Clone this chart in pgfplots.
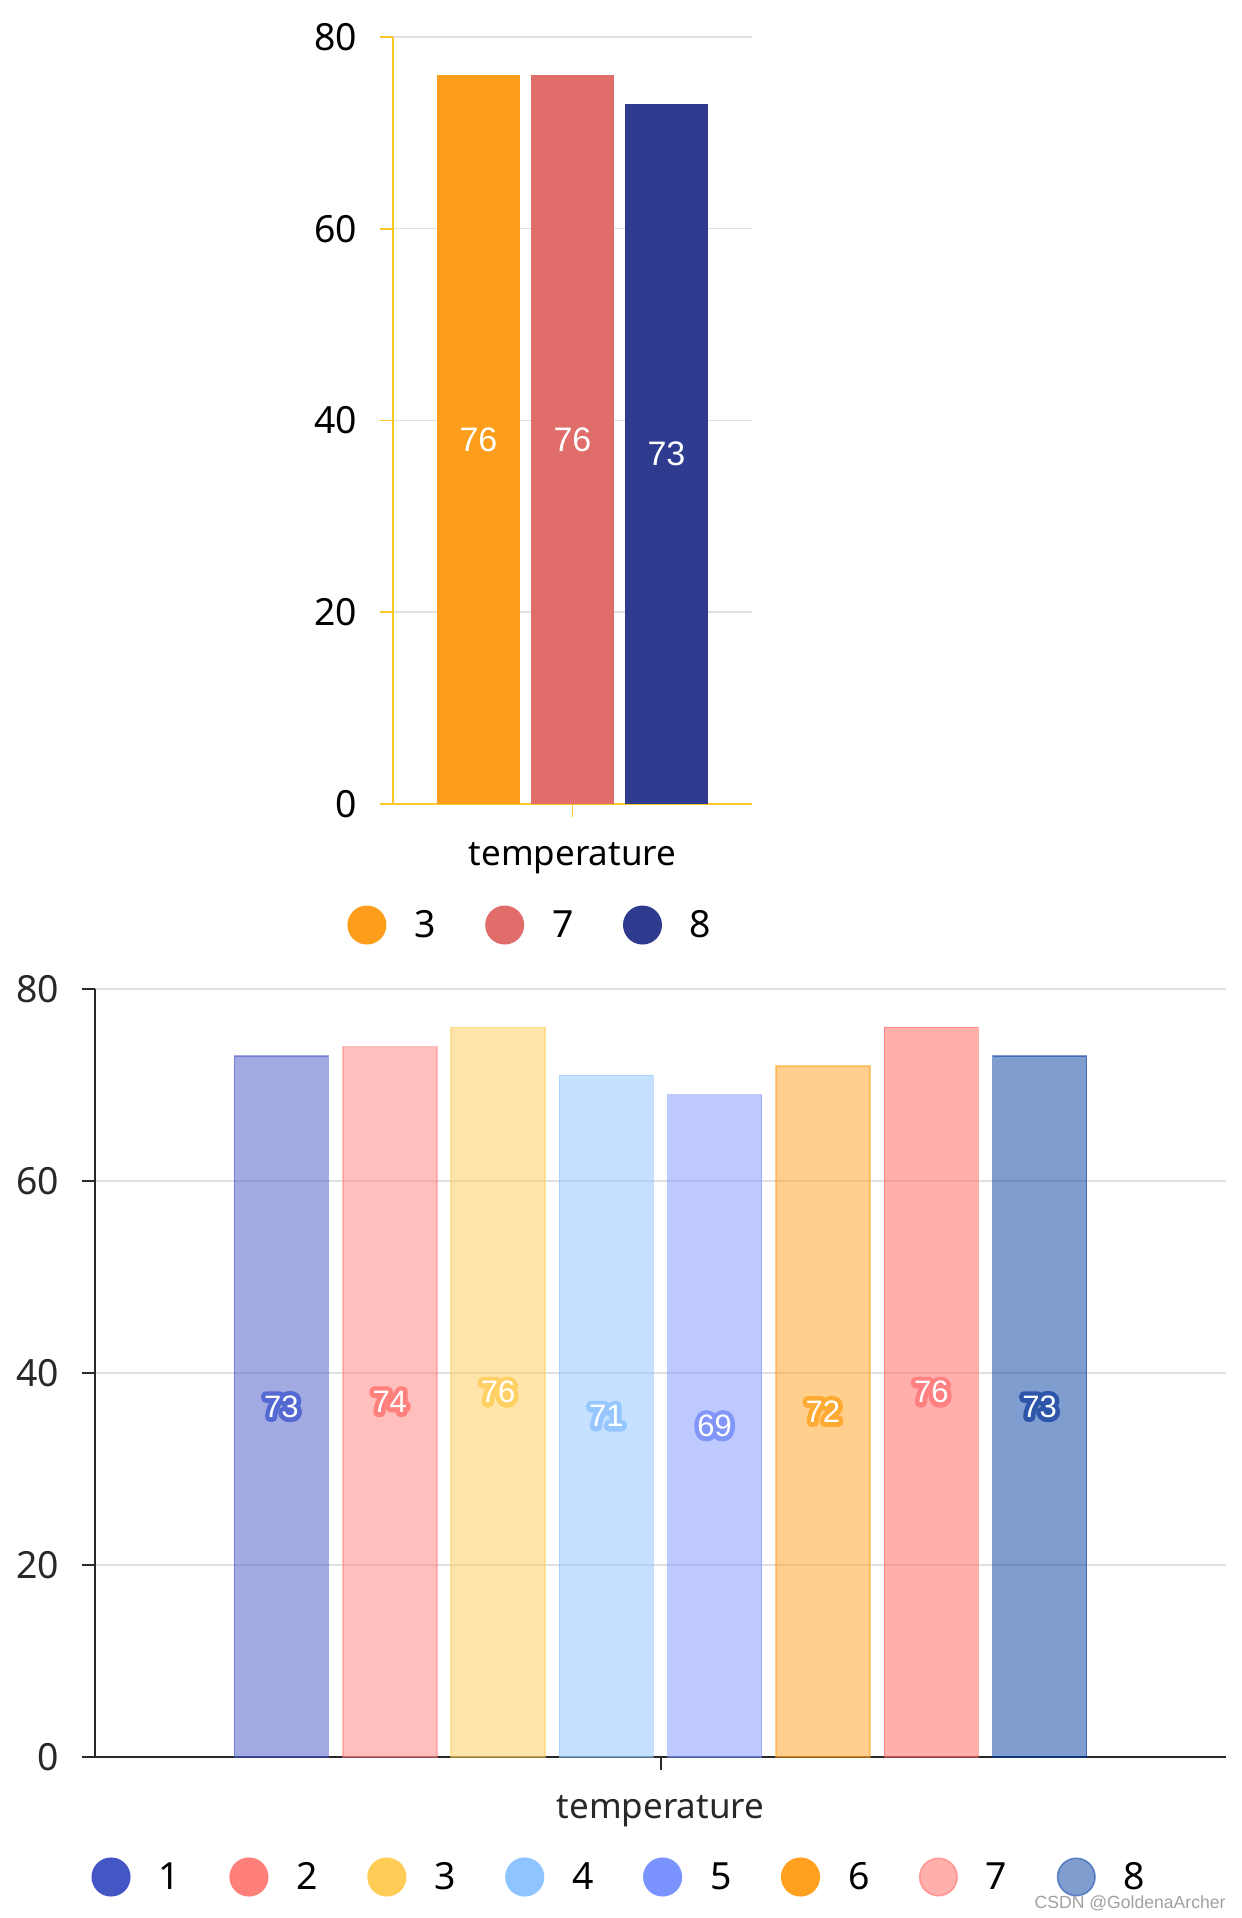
\documentclass[border=0pt]{standalone}
\usepackage{pgfplots}
\pgfplotsset{compat=1.18}
\usepackage{fontspec}
\setmainfont{Noto Sans}
\newfontfamily\labelfont{Liberation Sans}
\newcommand\halo[2]{\rlap{\color{#1}\addfontfeature{FakeBold=30}#2}#2}

\definecolor{axisyellow}{RGB}{248,200,40}
\definecolor{gridgray}{RGB}{224,224,224}
\definecolor{torange}{RGB}{252,158,28}
\definecolor{tred}{RGB}{225,109,107}
\definecolor{tblue}{RGB}{47,59,142}
\definecolor{c1}{RGB}{67,86,196}
\definecolor{c2}{RGB}{255,127,122}
\definecolor{c3}{RGB}{255,204,85}
\definecolor{c4}{RGB}{142,196,255}
\definecolor{c5}{RGB}{123,147,255}
\definecolor{c6}{RGB}{255,160,30}
\definecolor{c7}{RGB}{255,97,91}
\definecolor{c8}{RGB}{1,59,161}
\definecolor{h1}{RGB}{85,105,210}
\definecolor{h2}{RGB}{255,128,125}
\definecolor{h3}{RGB}{255,208,100}
\definecolor{h4}{RGB}{150,198,255}
\definecolor{h5}{RGB}{130,150,250}
\definecolor{h6}{RGB}{255,170,50}
\definecolor{h7}{RGB}{255,128,128}
\definecolor{h8}{RGB}{45,85,170}
\definecolor{darktext}{RGB}{40,40,40}

\pgfplotsset{
  tbar/.style={fill=#1, draw=none,
    legend image code/.code={\fill[#1] (9.75pt,0.4pt) circle (9.75pt);}},
  bbar/.style n args={3}{fill=#1, fill opacity=0.5, draw=#1, draw opacity=0.5, line width=0.75pt,
    nodes near coords={\halo{#2}{\pgfmathprintnumber\pgfplotspointmeta}},
    legend image code/.code={\filldraw[fill=#1, draw=#1, fill opacity=#3, draw opacity=#3, line width=0.75pt] (9.75pt,0.4pt) circle (9.4pt);}},
}

\begin{document}
\begin{tikzpicture}
\useasboundingbox (0,0) rectangle (621pt,959pt);

% ---------- top chart ----------
\begin{axis}[
  at={(196.5pt,557pt)}, anchor=south west,
  scale only axis, width=179.5pt, height=383.5pt,
  clip=false,
  ybar=5.5pt, bar width=41.5pt,
  xmin=-1, xmax=1, ymin=0, ymax=80,
  enlargelimits=false,
  axis lines*=left,
  axis line style={axisyellow, line width=0.9pt},
  tick style={axisyellow, line width=0.9pt},
  tick align=outside, major tick length=6.5pt,
  ytick={0,20,40,60,80}, xtick={0}, xticklabels={},
  ymajorgrids, grid style={gridgray, line width=0.75pt},
  /pgf/number format/assume math mode=true,
  tick label style={font=\fontsize{18.7pt}{22pt}\selectfont, text=black},
  yticklabel style={xshift=-8pt},
  nodes near coords,
  visualization depends on={rawy \as \rawy},
  every node near coord/.append style={anchor=center, shift={(axis direction cs:0,-0.5*\rawy)},
    font=\labelfont\fontsize{17pt}{20pt}\selectfont, text=white, opacity=1, text opacity=1},
  legend columns=-1,
  legend style={draw=none, fill=none, inner sep=0pt, outer sep=0pt,
    at={(axis description cs:-0.127,-0.1578)}, anchor=west,
    font=\fontsize{18.7pt}{22pt}\selectfont,
    nodes={inner sep=0pt},
    /tikz/every odd column/.append style={column sep=14pt},
    /tikz/every even column/.append style={column sep=24.7pt}},
]
\addplot[tbar=torange] coordinates {(0,76)};
\addplot[tbar=tred] coordinates {(0,76)};
\addplot[tbar=tblue] coordinates {(0,73)};
\legend{3,7,8}
\node[anchor=base, font=\fontsize{17.5pt}{20pt}\selectfont, text=black] at (axis description cs:0.5,-0.0808) {temperature};
\end{axis}

% ---------- bottom chart ----------
\begin{axis}[
  at={(47.5pt,80.5pt)}, anchor=south west,
  scale only axis, width=565.5pt, height=384pt,
  clip=false,
  ybar=7.15pt, bar width=47pt,
  xmin=-1, xmax=1, ymin=0, ymax=80,
  enlargelimits=false,
  axis lines*=left,
  axis line style={darktext, line width=1pt},
  tick style={darktext, line width=1pt},
  tick align=outside, major tick length=6.5pt,
  ytick={0,20,40,60,80}, xtick={0}, xticklabels={},
  ymajorgrids, grid style={gridgray, line width=0.75pt},
  /pgf/number format/assume math mode=true,
  tick label style={font=\fontsize{18.7pt}{22pt}\selectfont, text=darktext},
  yticklabel style={xshift=-8pt},
  visualization depends on={rawy \as \rawy},
  every node near coord/.append style={anchor=center, shift={(axis direction cs:0,-0.5*\rawy)},
    font=\labelfont\fontsize{15.5pt}{18pt}\selectfont, text=white, opacity=1, text opacity=1, fill opacity=1, draw opacity=1, line join=round},
  legend columns=-1,
  legend style={draw=none, fill=none, inner sep=0pt, outer sep=0pt,
    at={(axis description cs:-0.0031,-0.15625)}, anchor=west,
    font=\fontsize{18.7pt}{22pt}\selectfont, text=black,
    nodes={inner sep=0pt},
    /tikz/every odd column/.append style={column sep=14pt},
    /tikz/every even column/.append style={column sep=24.7pt}},
]
\addplot[bbar={c1}{h1}{1}] coordinates {(0,73)};
\addplot[bbar={c2}{h2}{1}] coordinates {(0,74)};
\addplot[bbar={c3}{h3}{1}] coordinates {(0,76)};
\addplot[bbar={c4}{h4}{1}] coordinates {(0,71)};
\addplot[bbar={c5}{h5}{1}] coordinates {(0,69)};
\addplot[bbar={c6}{h6}{1}] coordinates {(0,72)};
\addplot[bbar={c7}{h7}{0.5}] coordinates {(0,76)};
\addplot[bbar={c8}{h8}{0.5}] coordinates {(0,73)};
\legend{1,2,3,4,5,6,7,8}
\node[anchor=base, font=\fontsize{17.5pt}{20pt}\selectfont, text=darktext] at (axis description cs:0.5,-0.0807) {temperature};
\end{axis}

\node[anchor=base east, font=\labelfont\fontsize{8.8pt}{10pt}\selectfont, text={rgb,255:red,160;green,160;blue,160}, inner sep=0pt] at (613pt,5pt) {CSDN @GoldenaArcher};
\end{tikzpicture}
\end{document}
